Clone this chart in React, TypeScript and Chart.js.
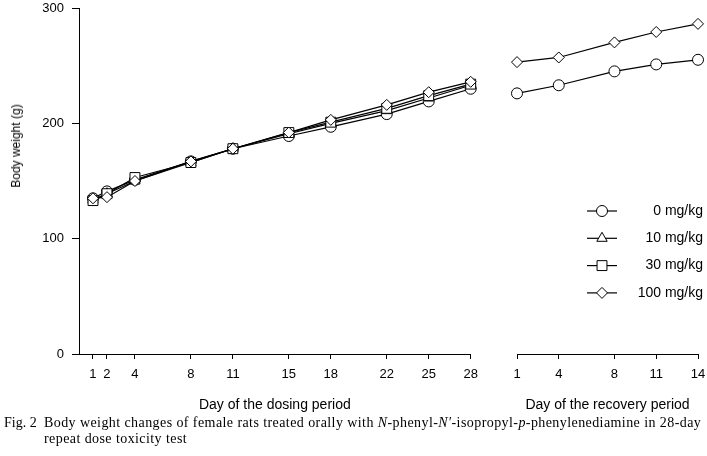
import React, { useEffect, useRef } from "react";
import { Chart, registerables } from "chart.js";

Chart.register(...registerables);

// ---- data ----
const doseLabels = ["0 mg/kg", "10 mg/kg", "30 mg/kg", "100 mg/kg"];
const doseMarkers = ["circle", "triangle", "rect", "rectRot"];
const dosingDays = [1, 2, 4, 8, 11, 15, 18, 22, 25, 28];
const dosing0 = [135, 141, 151, 167, 178, 189, 197, 208, 219, 230];
const dosing10 = [134, 139, 150, 166, 178, 191, 200, 211, 222, 233];
const dosing30 = [133, 139, 153, 166, 178, 192, 201, 213, 224, 234];
const dosing100 = [135, 136, 150, 167, 178, 192, 203, 216, 227, 236];
const recoveryDays = [1, 4, 8, 11, 14];
const recovery0 = [225, 232, 244, 250, 254];
const recovery100 = [252, 256, 269, 278, 285];
const yTicks = [0, 100, 200, 300];

// ---- layout ----
const SANS = '"Liberation Sans", Arial, sans-serif';
const SERIF = '"Liberation Serif", "Times New Roman", serif';
const H = 420;
const PLOT_TOP = 6;
const PLOT_BOTTOM = 354;
const LEFT_W = 490;
const RIGHT_W = 217;
const markerRadius: Record<string, number> = { circle: 5.5, triangle: 6, rect: 7, rectRot: 5.5 };

function makeDataset(label: string, days: number[], values: number[], marker: string, order: number) {
  return {
    label,
    data: days.map((d, i) => ({ x: d, y: values[i] })),
    borderColor: "#000",
    borderWidth: 1.2,
    pointStyle: marker,
    pointRadius: markerRadius[marker],
    pointBackgroundColor: "#fff",
    pointBorderColor: "#000",
    pointBorderWidth: 1,
    order,
    tension: 0,
    clip: false,
  };
}

function xAxis(min: number, max: number, ticks: number[], title: string) {
  return {
    type: "linear",
    min,
    max,
    afterBuildTicks: (s: any) => {
      s.ticks = ticks.map((v) => ({ value: v }));
    },
    afterFit: (s: any) => {
      s.height = H - PLOT_BOTTOM;
      s.paddingLeft = 0;
      s.paddingRight = 0;
    },
    grid: { drawOnChartArea: false, drawTicks: true, tickLength: 5, color: "#000", lineWidth: 1 },
    border: { display: true, color: "#000", width: 1 },
    ticks: { color: "#000", font: { size: 13, family: SANS }, padding: 8, maxRotation: 0, autoSkip: false },
    title: { display: true, text: title, color: "#000", font: { size: 14, family: SANS }, padding: { top: 0, bottom: 6 } },
  };
}

function drawMarker(ctx: CanvasRenderingContext2D, style: string, x: number, y: number, r: number) {
  ctx.beginPath();
  if (style === "circle") {
    ctx.arc(x, y, r, 0, Math.PI * 2);
  } else if (style === "triangle") {
    ctx.moveTo(x, y - r);
    ctx.lineTo(x + 0.866 * r, y + 0.5 * r);
    ctx.lineTo(x - 0.866 * r, y + 0.5 * r);
    ctx.closePath();
  } else if (style === "rect") {
    const s = Math.SQRT1_2 * r;
    ctx.rect(x - s, y - s, 2 * s, 2 * s);
  } else {
    ctx.moveTo(x - r, y);
    ctx.lineTo(x, y - r);
    ctx.lineTo(x + r, y);
    ctx.lineTo(x, y + r);
    ctx.closePath();
  }
  ctx.fillStyle = "#fff";
  ctx.fill();
  ctx.strokeStyle = "#000";
  ctx.lineWidth = 1;
  ctx.stroke();
}

const legendPlugin = {
  id: "doseLegend",
  afterDraw(chart: any) {
    const ctx = chart.ctx as CanvasRenderingContext2D;
    const firstY = 211;
    const step = 27.3;
    const lineX0 = 97;
    const lineX1 = 127;
    const textRight = 213;
    ctx.save();
    doseLabels.forEach((lab, i) => {
      const y = firstY + i * step;
      ctx.beginPath();
      ctx.moveTo(lineX0, y);
      ctx.lineTo(lineX1, y);
      ctx.strokeStyle = "#000";
      ctx.lineWidth = 1.2;
      ctx.stroke();
      drawMarker(ctx, doseMarkers[i], (lineX0 + lineX1) / 2, y, markerRadius[doseMarkers[i]]);
      ctx.fillStyle = "#000";
      ctx.font = `14px ${SANS}`;
      ctx.textAlign = "right";
      ctx.textBaseline = "middle";
      ctx.fillText(lab, textRight, y);
    });
    ctx.restore();
  },
};

export default function App() {
  const leftRef = useRef<HTMLCanvasElement>(null);
  const rightRef = useRef<HTMLCanvasElement>(null);

  useEffect(() => {
    const left = new Chart(leftRef.current as HTMLCanvasElement, {
      type: "line",
      data: {
        datasets: [
          makeDataset(doseLabels[0], dosingDays, dosing0, doseMarkers[0], 4),
          makeDataset(doseLabels[1], dosingDays, dosing10, doseMarkers[1], 3),
          makeDataset(doseLabels[2], dosingDays, dosing30, doseMarkers[2], 2),
          makeDataset(doseLabels[3], dosingDays, dosing100, doseMarkers[3], 1),
        ] as any,
      },
      options: {
        animation: false,
        responsive: false,
        layout: { padding: { top: PLOT_TOP, left: 0, right: LEFT_W - 470.7, bottom: 0 } },
        plugins: { legend: { display: false }, tooltip: { enabled: false } },
        scales: {
          x: xAxis(0, 28, dosingDays, "Day of the dosing period") as any,
          y: {
            type: "linear",
            min: 0,
            max: 300,
            afterBuildTicks: (s: any) => {
              s.ticks = yTicks.map((v) => ({ value: v }));
            },
            afterFit: (s: any) => {
              s.width = 79;
              s.paddingTop = 0;
              s.paddingBottom = 0;
            },
            grid: { drawOnChartArea: false, drawTicks: true, tickLength: 7, color: "#000", lineWidth: 1 },
            border: { display: true, color: "#000", width: 1 },
            ticks: { color: "#000", font: { size: 13, family: SANS }, padding: 8 },
          },
        },
      },
    });

    const right = new Chart(rightRef.current as HTMLCanvasElement, {
      type: "line",
      data: {
        datasets: [
          makeDataset(doseLabels[0], recoveryDays, recovery0, doseMarkers[0], 2),
          makeDataset(doseLabels[3], recoveryDays, recovery100, doseMarkers[3], 1),
        ] as any,
      },
      options: {
        animation: false,
        responsive: false,
        layout: { padding: { top: PLOT_TOP, left: 27, right: 9, bottom: 0 } },
        plugins: { legend: { display: false }, tooltip: { enabled: false } },
        scales: {
          x: xAxis(1, 14, recoveryDays, "Day of the recovery period") as any,
          y: { type: "linear", min: 0, max: 300, display: false },
        },
      },
      plugins: [legendPlugin],
    });

    return () => {
      left.destroy();
      right.destroy();
    };
  }, []);

  return (
    <div style={{ position: "absolute", left: 0, top: 0, width: 707, height: 456, background: "#fff", overflow: "hidden" }}>
      <canvas ref={leftRef} width={LEFT_W} height={H} style={{ position: "absolute", left: 0, top: 0, width: LEFT_W, height: H }} />
      <canvas ref={rightRef} width={RIGHT_W} height={H} style={{ position: "absolute", left: LEFT_W, top: 0, width: RIGHT_W, height: H }} />
      <div
        style={{
          position: "absolute",
          left: 16,
          top: 146,
          transform: "translate(-50%, -50%) rotate(-90deg)",
          whiteSpace: "nowrap",
          fontFamily: SANS,
          fontSize: 12,
          color: "#000",
        }}
      >
        Body weight (g)
      </div>
      <div
        style={{
          position: "absolute",
          left: 4,
          top: 415,
          fontFamily: SERIF,
          fontSize: 14,
          lineHeight: "16px",
          color: "#000",
          whiteSpace: "nowrap",
        }}
      >
        <div>
          <span style={{ display: "inline-block", width: 40 }}>Fig. 2</span>
          <span style={{ letterSpacing: "0.42px" }}>
            Body weight changes of female rats treated orally with <i>N</i>-phenyl-<i>N′</i>-isopropyl-<i>p</i>-phenylenediamine in 28-day
          </span>
        </div>
        <div style={{ paddingLeft: 40, letterSpacing: "0.42px" }}>repeat dose toxicity test</div>
      </div>
    </div>
  );
}
